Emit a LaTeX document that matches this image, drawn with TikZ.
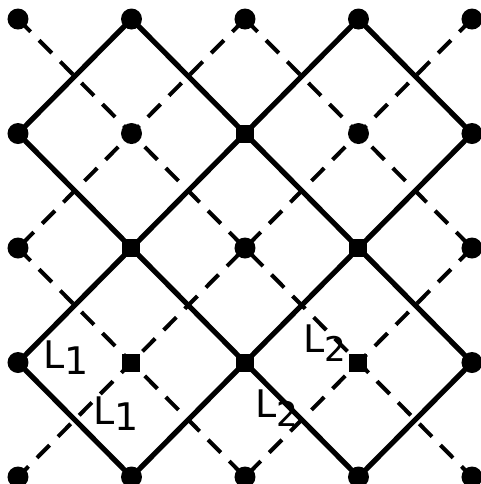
\documentclass[tikz,border=0pt]{standalone}
\usepackage{fontspec}
\setsansfont{DejaVu Sans}
\begin{document}
\begin{tikzpicture}[x=0.5pt,y=-0.5pt,
  solidline/.style={line width=2.6pt},
  dashline/.style={line width=2pt,dash pattern=on 9pt off 6pt},
  rdot/.style={circle,fill=black,inner sep=0pt,minimum size=10.5pt},
  sdot/.style={rectangle,fill=black,inner sep=0pt,minimum size=9pt},
  lab/.style={font=\sffamily\fontsize{19}{19}\selectfont,inner sep=0pt}]
\useasboundingbox (0,0) rectangle (481,484);
\foreach \i in {0,...,4}{
  \foreach \j in {0,...,4}{
    \coordinate (c\i\j) at ({18+113.5*\i},{19+114.5*\j});
  }
}
% solid lines
\draw[solidline] (c10) -- (c01);
\draw[solidline] (c30) -- (c03);
\draw[solidline] (c41) -- (c14);
\draw[solidline] (c43) -- (c34);
\draw[solidline] (c10) -- (c43);
\draw[solidline] (c01) -- (c34);
\draw[solidline] (c30) -- (c41);
\draw[solidline] (c03) -- (c14);
% dashed lines
\draw[dashline] (c00) -- (c44);
\draw[dashline] (c20) -- (c42);
\draw[dashline] (c02) -- (c24);
\draw[dashline] (c20) -- (c02);
\draw[dashline] (c40) -- (c04);
\draw[dashline] (c42) -- (c24);
% dots
\foreach \i/\j in {0/0,1/0,2/0,3/0,4/0,0/1,1/1,3/1,4/1,0/2,2/2,4/2,0/3,4/3,0/4,1/4,2/4,3/4,4/4}{
  \node[rdot] (d\i\j) at (c\i\j) {};
}
\foreach \i/\j in {2/1,1/2,3/2,1/3,2/3,3/3}{
  \node[sdot] (d\i\j) at (c\i\j) {};
}
% labels
\node[lab] (l1a) at (66,358) {L\raisebox{-0.3ex}{1}};
\node[lab] (l1b) at (116,414) {L\raisebox{-0.3ex}{1}};
\node[lab] (l2a) at (325,343) {L\raisebox{-0.4ex}{\fontsize{17}{17}\selectfont 2}};
\node[lab] (l2b) at (277,408) {L\raisebox{-0.4ex}{\fontsize{17}{17}\selectfont 2}};
\end{tikzpicture}
\end{document}
